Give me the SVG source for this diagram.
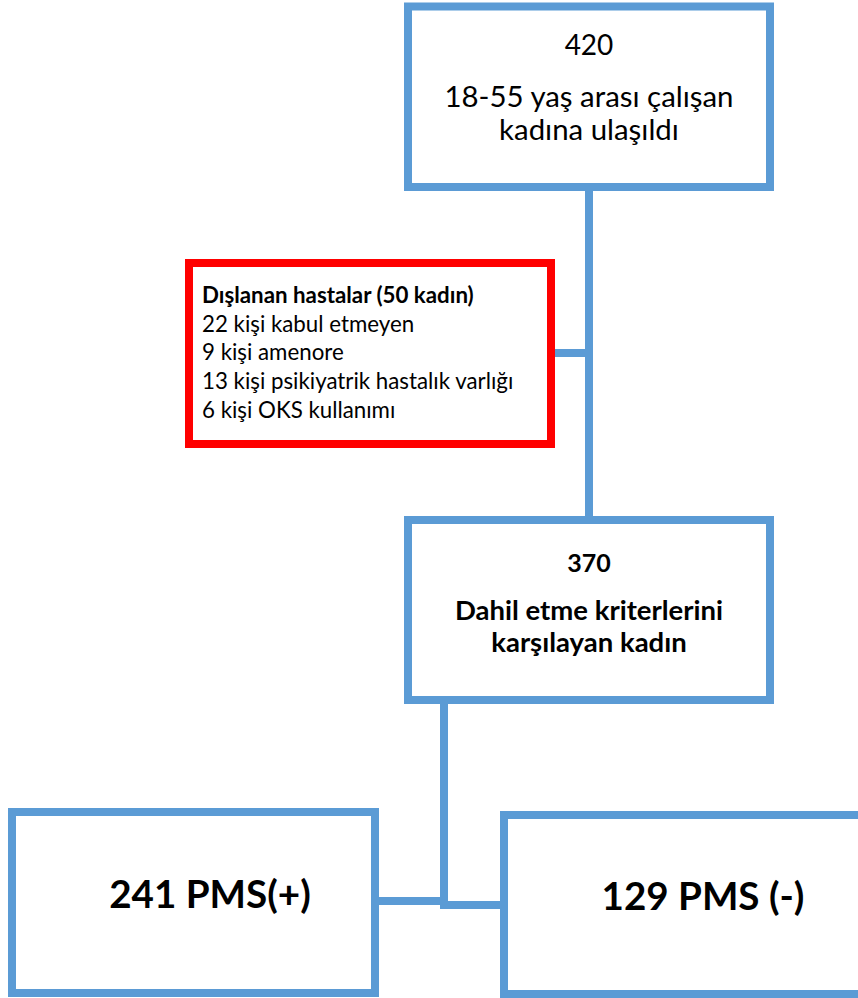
<svg xmlns="http://www.w3.org/2000/svg" width="858" height="998" viewBox="0 0 858 998">
<style>
.box{fill:#fff;stroke:#5B9BD5;stroke-width:8}
.red{fill:#fff;stroke:#FF0000;stroke-width:8}
.conn{fill:none;stroke:#5B9BD5;stroke-width:8}
text{font-family:Lato,"Open Sans",sans-serif;fill:#000}
.c{text-anchor:middle}
.b{font-weight:bold}
.ex{font-size:22.3px}
</style>
<rect width="858" height="998" fill="#fff"/>
<g id="connectors">
<line class="conn" x1="589" y1="187" x2="589" y2="520"/>
<line class="conn" x1="551" y1="353" x2="589" y2="353"/>
<line class="conn" x1="444" y1="700" x2="444" y2="909"/>
<line class="conn" x1="375" y1="901" x2="444" y2="901"/>
<line class="conn" x1="440" y1="905" x2="504" y2="905"/>
</g>
<g id="node-420">
<rect class="box" x="408" y="6.5" width="362" height="180.5"/>
<text class="c" x="589" y="55" font-size="28">420</text>
<text class="c" x="589" y="107" font-size="29.4">18-55 yaş arası çalışan</text>
<text class="c" x="589" y="140" font-size="29.4">kadına ulaşıldı</text>
</g>
<g id="node-excluded">
<rect class="red" x="189" y="263" width="362" height="181"/>
<text x="202" y="303" class="b ex">Dışlanan hastalar (50 kadın)</text>
<text x="202" y="332" class="ex">22 kişi kabul etmeyen</text>
<text x="202" y="360" class="ex">9 kişi amenore</text>
<text x="202" y="389" class="ex">13 kişi psikiyatrik hastalık varlığı</text>
<text x="202" y="418" class="ex">6 kişi OKS kullanımı</text>
</g>
<g id="node-370">
<rect class="box" x="408" y="520" width="362" height="180"/>
<text class="c b" x="589" y="572" font-size="25">370</text>
<text class="c b" x="589" y="620" font-size="27.5">Dahil etme kriterlerini</text>
<text class="c b" x="589" y="652" font-size="27.5">karşılayan kadın</text>
</g>
<g id="node-pms-pos">
<rect class="box" x="12" y="812" width="363" height="181"/>
<text class="c b" x="210" y="908" font-size="38.6">241 PMS(+)</text>
</g>
<g id="node-pms-neg">
<rect class="box" x="504" y="815" width="362" height="179"/>
<text class="c b" x="703" y="910" font-size="38.6">129 PMS (-)</text>
</g>
</svg>
